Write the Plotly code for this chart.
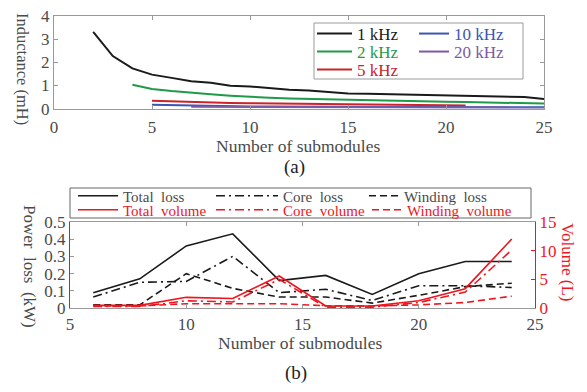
import plotly.graph_objects as go

# ---------- data (a) ----------
x_1k = list(range(2, 26))
y_1k = [3.31, 2.27, 1.74, 1.47, 1.33, 1.18, 1.12, 0.99, 0.96, 0.88, 0.82, 0.78,
        0.72, 0.66, 0.64, 0.62, 0.60, 0.58, 0.56, 0.55, 0.54, 0.52, 0.50, 0.42]
x_2k = list(range(4, 26))
y_2k = [1.03, 0.85, 0.76, 0.68, 0.62, 0.56, 0.50, 0.47, 0.44, 0.42, 0.40, 0.37,
        0.36, 0.34, 0.33, 0.32, 0.30, 0.29, 0.28, 0.27, 0.25, 0.22]
x_5k = list(range(5, 22))
y_5k = [0.34, 0.31, 0.29, 0.27, 0.25, 0.24, 0.23, 0.22, 0.21, 0.20, 0.19, 0.18,
        0.17, 0.16, 0.15, 0.14, 0.14]
x_10k = list(range(5, 26))
y_10k = [0.17, 0.15, 0.13, 0.12, 0.11, 0.10, 0.10, 0.09, 0.09, 0.08, 0.08, 0.08,
         0.07, 0.07, 0.07, 0.07, 0.06, 0.06, 0.06, 0.06, 0.06]
x_20k = list(range(7, 26))
y_20k = [0.08, 0.08, 0.07, 0.07, 0.07, 0.06, 0.06, 0.06, 0.06, 0.05, 0.05, 0.05,
         0.05, 0.05, 0.05, 0.05, 0.05, 0.05, 0.05]

# ---------- data (b) ----------
n_sub = [6, 8, 10, 12, 14, 16, 18, 20, 22, 24]
total_loss = [0.09, 0.17, 0.36, 0.43, 0.16, 0.19, 0.08, 0.20, 0.27, 0.27]
core_loss = [0.065, 0.15, 0.155, 0.30, 0.09, 0.11, 0.045, 0.13, 0.13, 0.12]
winding_loss = [0.02, 0.02, 0.20, 0.115, 0.065, 0.065, 0.03, 0.075, 0.125, 0.145]
total_vol = [0.5, 0.5, 1.9, 1.7, 5.6, 0.4, 0.4, 1.3, 3.4, 12.0]
core_vol = [0.3, 0.3, 1.3, 1.1, 5.0, 0.2, 0.2, 1.0, 2.8, 10.1]
winding_vol = [0.4, 0.4, 0.8, 0.85, 0.8, 0.45, 0.4, 0.6, 1.0, 2.1]

FONT = "Liberation Serif"
GRAY = "#4a4a4a"
AXC = "#9a9a9a"
RED = "#f0141e"
W, H = 587, 392
OFF = 8                      # page body margin of the browser
FW, FH = W - OFF, H - OFF    # figure size so that the page does not overflow


def px(v):
    return (v - OFF) / FW


def py(v):
    return 1 - (v - OFF) / FH


fig = go.Figure()
legends = {}

# (a) series: data, colour, name, legend origin x, row centre y, itemwidth
top_series = [
    (x_1k, y_1k, "#1a1a1a", "1 kHz", 312, 34, 35),
    (x_2k, y_2k, "#1f9a48", "2 kHz", 312, 52, 35),
    (x_5k, y_5k, "#cc2229", "5 kHz", 312, 70, 35),
    (x_10k, y_10k, "#3a56b0", "10 kHz", 414, 34, 30),
    (x_20k, y_20k, "#7b5aa6", "20 kHz", 414, 52, 30),
]
li = 1
for xs, ys, c, name, lx, ly, iw in top_series:
    key = "legend" if li == 1 else f"legend{li}"
    fig.add_trace(go.Scatter(x=xs, y=ys, mode="lines", name=name,
                             line=dict(color=c, width=2), xaxis="x", yaxis="y",
                             legend=key))
    legends[key] = dict(x=px(lx), y=py(ly), xanchor="left",
                        yanchor="middle", bgcolor="rgba(0,0,0,0)",
                        borderwidth=0, itemwidth=iw,
                        font=dict(family=FONT, size=17, color=c))
    li += 1

DASHDOT = "9px,4px,2px,4px"
DASH = "7px,4px"
bot_series = [
    (total_loss, "y2", "#1a1a1a", "solid", "Total\u00a0 loss", 73, 196, 40, GRAY),
    (core_loss, "y2", "#1a1a1a", DASHDOT, "Core\u00a0 loss", 211, 196, 62, GRAY),
    (winding_loss, "y2", "#1a1a1a", DASH, "Winding\u00a0 loss", 364, 196, 30, GRAY),
    (total_vol, "y3", RED, "solid", "Total\u00a0 volume", 73, 210, 40, RED),
    (core_vol, "y3", RED, DASHDOT, "Core\u00a0 volume", 211, 210, 62, RED),
    (winding_vol, "y3", RED, DASH, "Winding\u00a0 volume", 367, 210, 30, RED),
]
for ys, ya, c, d, name, lx, ly, iw, tc in bot_series:
    key = f"legend{li}"
    fig.add_trace(go.Scatter(x=n_sub, y=ys, mode="lines", name=name,
                             line=dict(color=c, width=1.6, dash=d),
                             xaxis="x2", yaxis=ya, legend=key))
    legends[key] = dict(x=px(lx), y=py(ly), xanchor="left",
                        yanchor="middle", bgcolor="rgba(0,0,0,0)",
                        borderwidth=0, itemwidth=iw,
                        font=dict(family=FONT, size=15, color=tc))
    li += 1

tickfont = dict(family=FONT, size=17, color=GRAY)
common_ax = dict(showgrid=False, zeroline=False, showline=True, linecolor=AXC,
                 linewidth=1, ticks="inside", ticklen=4, tickcolor=AXC,
                 mirror="ticks", tickfont=tickfont, ticklabeloverflow="allow")

fig.update_layout(
    template="none",
    width=FW, height=FH,
    margin=dict(l=0, r=0, t=0, b=0, autoexpand=False),
    paper_bgcolor="white", plot_bgcolor="white",
    font=dict(family=FONT, color=GRAY),
    showlegend=True,
    xaxis=dict(domain=[px(54), px(544)], range=[0, 25], dtick=5, anchor="y",
               ticklabelstandoff=3, **common_ax),
    yaxis=dict(domain=[py(108.7), py(16)], range=[0, 4], dtick=1, anchor="x",
               **common_ax),
    xaxis2=dict(domain=[px(70), px(535)], range=[5, 25], dtick=5, anchor="y2",
                **common_ax),
    yaxis2=dict(domain=[py(308.3), py(221.7)], range=[0, 0.5], dtick=0.1,
                anchor="x2", showgrid=False, zeroline=False, showline=True,
                linecolor="#555555", ticks="inside", ticklen=4, tickcolor=AXC,
                tickfont=tickfont, ticklabeloverflow="allow"),
    yaxis3=dict(overlaying="y2", side="right", anchor="x2", range=[0, 15],
                dtick=5, showgrid=False, zeroline=False, showline=True,
                linecolor=RED, ticks="inside", ticklen=4, tickcolor=RED,
                ticklabeloverflow="allow",
                tickfont=dict(family=FONT, size=17, color=RED)),
    shapes=[
        dict(type="rect", xref="paper", yref="paper",
             x0=px(314), x1=px(523), y0=py(79), y1=py(23),
             line=dict(color=AXC, width=1), fillcolor="rgba(0,0,0,0)"),
        dict(type="rect", xref="paper", yref="paper",
             x0=px(70), x1=px(531), y0=py(218), y1=py(188),
             line=dict(color="#666666", width=1), fillcolor="rgba(0,0,0,0)"),
    ],
    annotations=[
        dict(text="Inductance (mH)", x=px(22), y=py(69), textangle=90,
             font=dict(family=FONT, size=16.5, color=GRAY)),
        dict(text="Number of submodules", x=px(298), y=py(146),
             font=dict(family=FONT, size=17.5, color=GRAY)),
        dict(text="(a)", x=px(294), y=py(167),
             font=dict(family=FONT, size=19, color="#222")),
        dict(text="Power\u00a0 loss\u00a0 (kW)", x=px(30), y=py(266),
             textangle=90, font=dict(family=FONT, size=17, color=GRAY)),
        dict(text="Volume (L)", x=px(568), y=py(262), textangle=90,
             font=dict(family=FONT, size=17, color=RED)),
        dict(text="Number of submodules", x=px(300), y=py(343),
             font=dict(family=FONT, size=17.5, color=GRAY)),
        dict(text="(b)", x=px(296), y=py(373),
             font=dict(family=FONT, size=19, color="#222")),
    ],
    **legends,
)
fig.update_annotations(xref="paper", yref="paper", showarrow=False,
                       xanchor="center", yanchor="middle")

fig.write_html("out.html")
